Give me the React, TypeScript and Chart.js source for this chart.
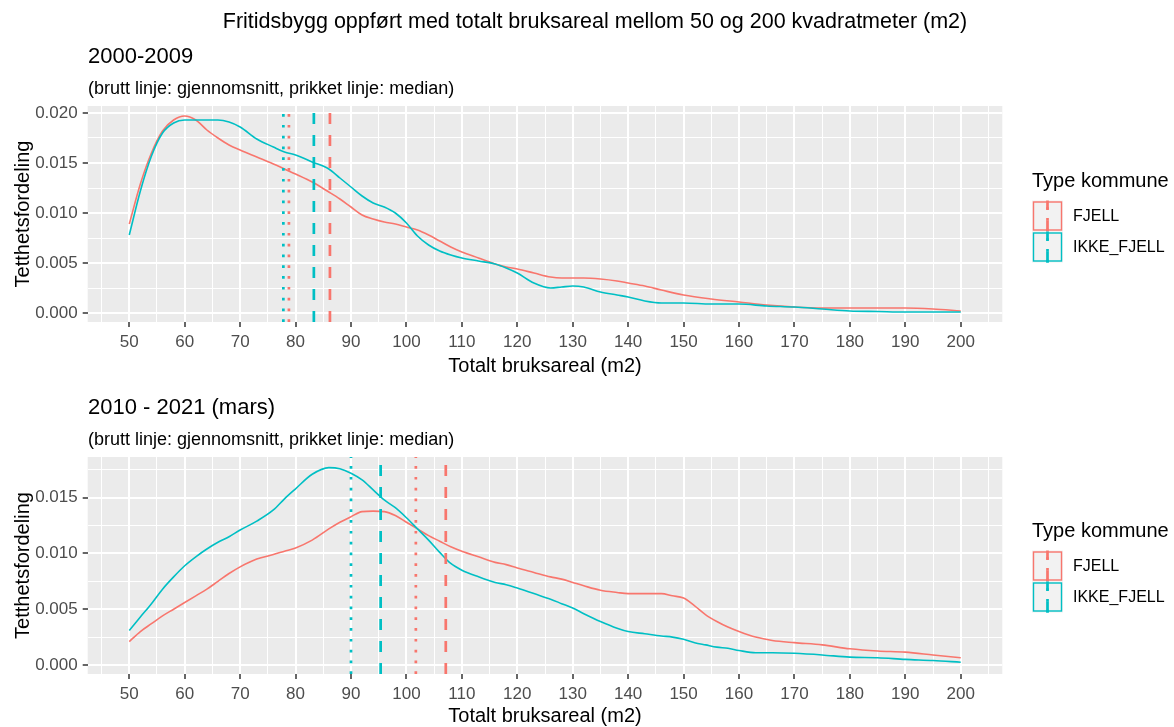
import React, { useEffect, useRef } from "react";
import { Chart, registerables } from "chart.js";

Chart.register(...registerables);

const FAMILY = "'Liberation Sans', Arial, Helvetica, sans-serif";
const RED = "#F8766D";
const TEAL = "#00BFC4";

// ---- texts ----
const mainTitle = "Fritidsbygg oppført med totalt bruksareal mellom 50 og 200 kvadratmeter (m2)";
const panelTitles = ["2000-2009", "2010 - 2021 (mars)"];
const subtitleText = "(brutt linje: gjennomsnitt, prikket linje: median)";
const xAxisTitle = "Totalt bruksareal (m2)";
const yAxisTitle = "Tetthetsfordeling";
const legendTitle = "Type kommune";
const groups = ["FJELL", "IKKE_FJELL"];
const groupColors = [RED, TEAL];

// ---- ticks ----
const xMajorTicks = [50, 60, 70, 80, 90, 100, 110, 120, 130, 140, 150, 160, 170, 180, 190, 200];
const xMinorTicks = [45, 55, 65, 75, 85, 95, 105, 115, 125, 135, 145, 155, 165, 175, 185, 195, 205];
const yMajorTop = [0, 0.005, 0.01, 0.015, 0.02];
const yMinorTop = [0.0025, 0.0075, 0.0125, 0.0175];
const yMajorBottom = [0, 0.005, 0.01, 0.015];
const yMinorBottom = [0.0025, 0.0075, 0.0125, 0.0175];

// ---- 2000-2009 densities ----
const xTop = [50, 52, 54, 56, 58, 60, 62, 64, 66, 68, 70, 73, 76, 78, 80, 83, 86, 88, 90, 92, 94, 96, 98, 100,
  102, 104, 106, 108, 110, 113, 116, 118, 120, 123, 126, 128, 130, 132, 135, 138, 140, 143, 146, 150,
  155, 160, 165, 170, 175, 180, 185, 190, 195, 200];
const fjellTop = [0.0089, 0.0129, 0.016, 0.0182, 0.0193, 0.0197, 0.0193, 0.0183, 0.0175, 0.0168, 0.0163, 0.0156,
  0.0149, 0.0144, 0.0139, 0.0131, 0.0121, 0.0114, 0.0106, 0.0098, 0.0094, 0.0091, 0.0089, 0.0086,
  0.0083, 0.0078, 0.0072, 0.0066, 0.0061, 0.0055, 0.0049, 0.0046, 0.0044, 0.004, 0.0036, 0.0035, 0.0035,
  0.0035, 0.0034, 0.0032, 0.003, 0.0027, 0.0023, 0.0018, 0.0014, 0.0011, 0.0008, 0.0006, 0.0005, 0.0005,
  0.0005, 0.0005, 0.0004, 0.0002];
const ikkeFjellTop = [0.0078, 0.0122, 0.0157, 0.018, 0.019, 0.0193, 0.0193, 0.0193, 0.0193, 0.0191, 0.0186, 0.0174,
  0.0166, 0.0161, 0.0158, 0.0151, 0.0144, 0.0135, 0.0126, 0.0117, 0.011, 0.0106, 0.01, 0.009,
  0.0077, 0.0068, 0.0062, 0.0058, 0.0055, 0.0052, 0.0049, 0.0045, 0.004, 0.003, 0.0025, 0.0026, 0.0027,
  0.0026, 0.0021, 0.0018, 0.0016, 0.0012, 0.001, 0.001, 0.0009, 0.0009, 0.0007, 0.0006, 0.0004, 0.0002,
  0.00015, 0.0001, 0.0001, 0.0001];
const meanTop = [86.2, 83.3];
const medianTop = [78.8, 77.8];

// ---- 2010-2021 densities ----
const xBottom = [50, 52, 54, 56, 58, 60, 62, 64, 66, 68, 70, 73, 76, 78, 80, 83, 86, 88, 90, 92, 94, 96, 98, 100,
  102, 104, 106, 108, 110, 113, 116, 118, 120, 123, 126, 128, 130, 132, 135, 138, 140, 143, 146, 148, 150,
  152, 154, 156, 158, 160, 163, 166, 170, 175, 180, 185, 190, 195, 200];
const fjellBottom = [0.0021, 0.003, 0.0037, 0.0044, 0.005, 0.0056, 0.0062, 0.0068, 0.0075, 0.0082, 0.0088,
  0.0095, 0.0099, 0.0102, 0.0105, 0.0112, 0.0122, 0.0128, 0.0133, 0.01375, 0.0138, 0.01375, 0.0134, 0.0128,
  0.0122, 0.0116, 0.0111, 0.0106, 0.0102,
  0.0097, 0.0092, 0.009, 0.0087, 0.0083, 0.0079, 0.0077, 0.0074, 0.0071, 0.0067, 0.0065, 0.0064, 0.0064, 0.0064, 0.0062, 0.006,
  0.0053, 0.0045, 0.0039, 0.0034, 0.003, 0.0025, 0.0022, 0.002,
  0.0018, 0.00145, 0.00125, 0.00115, 0.0009, 0.00065];
const ikkeFjellBottom = [0.0031, 0.0043, 0.0055, 0.0068, 0.0079, 0.0089, 0.0097, 0.0104, 0.011, 0.0115, 0.0121,
  0.0129, 0.0139, 0.0149, 0.0158, 0.0171, 0.0177, 0.0176, 0.0172, 0.0166, 0.0157, 0.0148, 0.0141, 0.0132,
  0.0122, 0.0112, 0.0101, 0.0091, 0.0085,
  0.0079, 0.0074, 0.0072, 0.0069, 0.0064, 0.0059, 0.0055, 0.0051, 0.0046, 0.0039, 0.0033, 0.003, 0.0028, 0.0026, 0.0025, 0.0023,
  0.002, 0.0018, 0.0016, 0.0015, 0.0013, 0.0011, 0.0011, 0.00105,
  0.0009, 0.0007, 0.00065, 0.0005, 0.0004, 0.00024];
const meanBottom = [107.1, 95.35];
const medianBottom = [101.7, 90.0];

// ---- page geometry ----
const PAGE_W = 1174;
const PANEL_LEFT = 87.7;
const PANEL_RIGHT = 1002.3;
const X_MIN = 42.5;
const X_MAX = 207.5;

type PanelProps = {
  canvasTop: number;
  canvasHeight: number;
  panelTop: number;
  panelBottom: number;
  xs: number[];
  fjell: number[];
  ikke: number[];
  means: number[];
  medians: number[];
  yMin: number;
  yMax: number;
  yMajor: number[];
  yMinor: number[];
  title: string;
  titleBaseline: number;
  subtitleBaseline: number;
  legendTitleBaseline: number;
  legendKeyTop: number;
  showMainTitle: boolean;
};

function Panel(p: PanelProps) {
  const ref = useRef<HTMLCanvasElement | null>(null);
  useEffect(() => {
    const canvas = ref.current;
    if (!canvas) return;
    const H = p.canvasHeight;
    const top = p.canvasTop;
    const isMajorX = (v: number) => xMajorTicks.some((m) => Math.abs(m - v) < 1e-9);
    const isMajorY = (v: number) => p.yMajor.some((m) => Math.abs(m - v) < 1e-9);
    const xAll = [...xMajorTicks, ...xMinorTicks].sort((a, b) => a - b);
    const yAll = [...p.yMajor, ...p.yMinor].sort((a, b) => a - b);

    const datasets: any[] = [];
    [0, 1].forEach((g) => {
      datasets.push({
        label: groups[g] + " gjennomsnitt",
        data: [{ x: p.means[g], y: p.yMin }, { x: p.means[g], y: p.yMax }],
        borderColor: groupColors[g],
        borderWidth: 2.7,
        borderDash: [11, 11],
        pointRadius: 0,
        tension: 0,
        order: 0,
      });
      datasets.push({
        label: groups[g] + " median",
        data: [{ x: p.medians[g], y: p.yMin }, { x: p.medians[g], y: p.yMax }],
        borderColor: groupColors[g],
        borderWidth: 2.7,
        borderDash: [2.7, 8.1],
        pointRadius: 0,
        tension: 0,
        order: 0,
      });
    });
    [0, 1].forEach((g) => {
      const vals = g === 0 ? p.fjell : p.ikke;
      datasets.push({
        label: groups[g],
        data: p.xs.map((x, i) => ({ x, y: vals[i] })),
        borderColor: groupColors[g],
        borderWidth: 1.6,
        pointRadius: 0,
        cubicInterpolationMode: "monotone",
        order: g === 0 ? 2 : 1,
      });
    });

    const bgPlugin = {
      id: "panelBg",
      beforeDraw(chart: any) {
        const { ctx, chartArea: a } = chart;
        ctx.save();
        ctx.fillStyle = "#EBEBEB";
        ctx.fillRect(a.left, a.top, a.right - a.left, a.bottom - a.top);
        ctx.restore();
      },
    };

    const textPlugin = {
      id: "panelTexts",
      afterDraw(chart: any) {
        const ctx: CanvasRenderingContext2D = chart.ctx;
        ctx.save();
        ctx.fillStyle = "#000000";
        ctx.textBaseline = "alphabetic";
        if (p.showMainTitle) {
          ctx.font = `21.5px ${FAMILY}`;
          ctx.textAlign = "center";
          ctx.fillText(mainTitle, 595, 27.5 - top);
        }
        ctx.textAlign = "left";
        ctx.font = `22px ${FAMILY}`;
        ctx.fillText(p.title, 88, p.titleBaseline - top);
        ctx.font = `18px ${FAMILY}`;
        ctx.fillText(subtitleText, 88, p.subtitleBaseline - top);

        // legend
        ctx.font = `20px ${FAMILY}`;
        ctx.fillText(legendTitle, 1032, p.legendTitleBaseline - top);
        const keySize = 31;
        const keyX = 1032;
        [0, 1].forEach((g) => {
          const ky = p.legendKeyTop - top + g * keySize;
          ctx.fillStyle = "#F2F2F2";
          ctx.fillRect(keyX, ky, keySize, keySize);
          ctx.strokeStyle = groupColors[g];
          ctx.lineWidth = 1.4;
          ctx.setLineDash([]);
          ctx.strokeRect(keyX + 1.5, ky + 1.5, keySize - 3, keySize - 3);
          const cx = keyX + keySize / 2;
          ctx.lineWidth = 2.7;
          ctx.lineCap = "butt";
          [[11, 11], [2.7, 8.1]].forEach((dash) => {
            ctx.setLineDash(dash);
            ctx.beginPath();
            ctx.moveTo(cx, ky + keySize);
            ctx.lineTo(cx, ky);
            ctx.stroke();
          });
          ctx.setLineDash([]);
          ctx.fillStyle = "#000000";
          ctx.font = `16px ${FAMILY}`;
          ctx.textBaseline = "middle";
          ctx.fillText(groups[g], 1073, ky + keySize / 2 + 1);
          ctx.textBaseline = "alphabetic";
        });
        ctx.restore();
      },
    };

    const tickFont = { family: FAMILY, size: 17 };
    const titleFont = { family: FAMILY, size: 20 };

    const chart = new Chart(canvas, {
      type: "line",
      data: { datasets },
      options: {
        responsive: false,
        animation: false,
        devicePixelRatio: 1,
        layout: {
          padding: { left: 0, top: p.panelTop - top, right: PAGE_W - PANEL_RIGHT, bottom: 0 },
        },
        plugins: {
          legend: { display: false },
          tooltip: { enabled: false },
          title: { display: false },
        },
        scales: {
          x: {
            type: "linear",
            min: X_MIN,
            max: X_MAX,
            afterBuildTicks: (s: any) => {
              s.ticks = xAll.map((v) => ({ value: v }));
            },
            afterFit: (s: any) => {
              s.height = H - (p.panelBottom - top);
            },
            border: { display: false },
            grid: {
              color: "#FFFFFF",
              lineWidth: (c: any) => (c.tick && isMajorX(c.tick.value) ? 2 : 1),
              tickColor: (c: any) => (c.tick && isMajorX(c.tick.value) ? "#333333" : "rgba(0,0,0,0)"),
              tickWidth: 1.5,
              tickLength: 5,
              drawTicks: true,
            },
            ticks: {
              autoSkip: false,
              maxRotation: 0,
              minRotation: 0,
              padding: 4.8,
              color: "#4D4D4D",
              font: tickFont,
              callback: (v: any) => (isMajorX(Number(v)) ? String(v) : ""),
            },
            title: {
              display: true,
              text: xAxisTitle,
              color: "#000000",
              font: titleFont,
              padding: { top: 0, bottom: 1.2 },
            },
          },
          y: {
            type: "linear",
            min: p.yMin,
            max: p.yMax,
            afterBuildTicks: (s: any) => {
              s.ticks = yAll.map((v) => ({ value: v }));
            },
            afterFit: (s: any) => {
              s.width = PANEL_LEFT;
            },
            border: { display: false },
            grid: {
              color: "#FFFFFF",
              lineWidth: (c: any) => (c.tick && isMajorY(c.tick.value) ? 2 : 1),
              tickColor: (c: any) => (c.tick && isMajorY(c.tick.value) ? "#333333" : "rgba(0,0,0,0)"),
              tickWidth: 1.5,
              tickLength: 5,
              drawTicks: true,
            },
            ticks: {
              autoSkip: false,
              padding: 5,
              color: "#4D4D4D",
              font: tickFont,
              callback: (v: any) => (isMajorY(Number(v)) ? Number(v).toFixed(3) : ""),
            },
            title: {
              display: true,
              text: yAxisTitle,
              color: "#000000",
              font: titleFont,
              padding: { top: 11, bottom: 0 },
            },
          },
        },
      } as any,
      plugins: [bgPlugin, textPlugin],
    });
    return () => chart.destroy();
  }, []);
  return (
    <canvas
      ref={ref}
      width={PAGE_W}
      height={p.canvasHeight}
      style={{ position: "absolute", left: 0, top: p.canvasTop, display: "block" }}
    />
  );
}

export default function App() {
  return (
    <div
      style={{
        position: "fixed",
        left: 0,
        top: 0,
        width: PAGE_W,
        height: 727,
        overflow: "hidden",
        background: "#FFFFFF",
      }}
    >
      <Panel
        canvasTop={0}
        canvasHeight={380}
        panelTop={106}
        panelBottom={322}
        xs={xTop}
        fjell={fjellTop}
        ikke={ikkeFjellTop}
        means={meanTop}
        medians={medianTop}
        yMin={-0.0009}
        yMax={0.0207}
        yMajor={yMajorTop}
        yMinor={yMinorTop}
        title={panelTitles[0]}
        titleBaseline={63}
        subtitleBaseline={94}
        legendTitleBaseline={187.3}
        legendKeyTop={200.5}
        showMainTitle={true}
      />
      <Panel
        canvasTop={380}
        canvasHeight={350}
        panelTop={457}
        panelBottom={674}
        xs={xBottom}
        fjell={fjellBottom}
        ikke={ikkeFjellBottom}
        means={meanBottom}
        medians={medianBottom}
        yMin={-0.00081}
        yMax={0.01865}
        yMajor={yMajorBottom}
        yMinor={yMinorBottom}
        title={panelTitles[1]}
        titleBaseline={414}
        subtitleBaseline={445}
        legendTitleBaseline={537.3}
        legendKeyTop={550.5}
        showMainTitle={false}
      />
    </div>
  );
}
